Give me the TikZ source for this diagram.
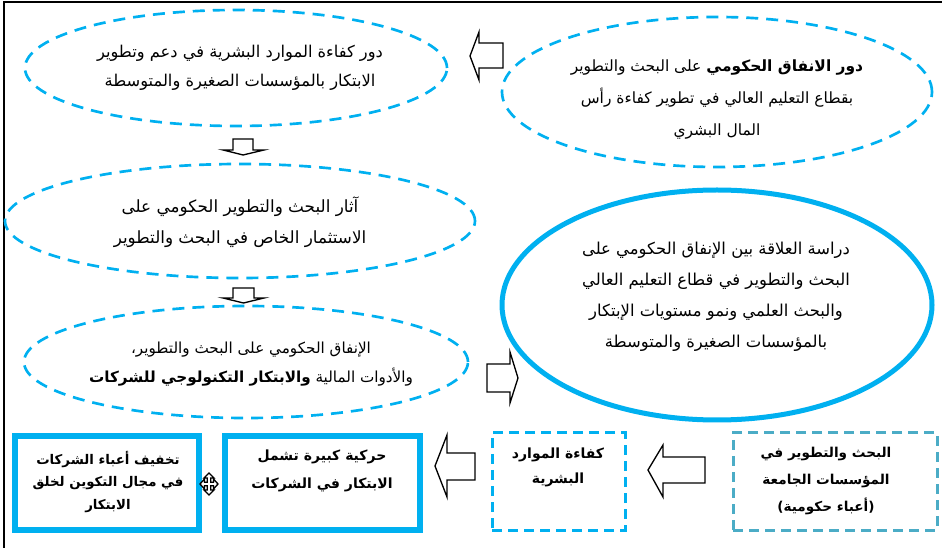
\documentclass[tikz,border=0pt]{standalone}
\usepackage{fontspec}
\setmainfont{DejaVu Sans}
\newfontfamily\arabicfont[Script=Arabic]{DejaVu Sans}
\TeXXeTstate=1
\usetikzlibrary{shapes.geometric}
\newcommand\AR[1]{\beginR#1\endR}
\definecolor{lblue}{HTML}{00B0F0}
\definecolor{tealb}{HTML}{4BACC6}
\tikzset{
  dellipse/.style={ellipse, draw=lblue, dash pattern=on 9pt off 6pt, line width=2pt, inner sep=0pt},
  bigellipse/.style={ellipse, draw=lblue, line width=3.75pt, inner sep=0pt},
  txt/.style 2 args={font=\arabicfont\fontsize{#1}{#2}\selectfont, align=center, inner sep=0pt, text=black},
  btxt/.style 2 args={font=\arabicfont\bfseries\fontsize{#1}{#2}\selectfont, align=center, inner sep=0pt, text=black},
  thickbox/.style={rectangle, draw=lblue, line width=4.5pt, inner sep=0pt},
  dbox/.style={rectangle, draw=#1, line width=2.25pt, dash pattern=on 7.5pt off 4.5pt, inner sep=0pt},
  hollow/.style={draw=black, line width=1pt, fill=white, line join=miter},
  frame/.style={draw=black, line width=1.6pt}
}
\begin{document}
\begin{tikzpicture}[x=0.75pt, y=-0.75pt]
\useasboundingbox (0,0) rectangle (942,548);
% frame
\coordinate (f1) at (942,2);
\coordinate (f2) at (4,2);
\coordinate (f3) at (4,548);
\draw[frame] (f1) -- (f2) -- (f3);

% ellipses
\node[dellipse, minimum width=316.5pt, minimum height=87pt] (e1) at (236,68) {};
\node[dellipse, minimum width=322.5pt, minimum height=112.5pt] (e2) at (717,92) {};
\node[dellipse, minimum width=352.5pt, minimum height=85.5pt] (e3) at (240,221) {};
\node[dellipse, minimum width=333pt, minimum height=84pt] (e4) at (246,362) {};
\node[bigellipse, minimum width=322.5pt, minimum height=172.5pt] (e5) at (717,305) {};

% ellipse texts
\node[txt={12.2}{21.75pt}] (t1) at (240,67.5) {\AR{دور كفاءة الموارد البشرية في دعم وتطوير}\\\AR{الابتكار بالمؤسسات الصغيرة والمتوسطة}};
\node[txt={11.6}{24pt}] (t2) at (717,100) {\AR{{\bfseries دور الانفاق الحكومي} على البحث والتطوير}\\\AR{بقطاع التعليم العالي في تطوير كفاءة رأس}\\\AR{المال البشري}};
\node[txt={12.6}{23.25pt}] (t3) at (240,222.5) {\AR{آثار البحث والتطوير الحكومي على}\\\AR{الاستثمار الخاص في البحث والتطوير}};
\node[txt={11.4}{21.75pt}] (t4) at (251,364.5) {\AR{الإنفاق الحكومي على البحث والتطوير،}\\\AR{والأدوات المالية {\bfseries والابتكار التكنولوجي للشركات}}};
\node[txt={12.3}{23.25pt}] (t5) at (716,297) {\AR{دراسة العلاقة بين الإنفاق الحكومي على}\\\AR{البحث والتطوير في قطاع التعليم العالي}\\\AR{والبحث العلمي  ونمو مستويات الإبتكار}\\\AR{بالمؤسسات الصغيرة والمتوسطة}};

% boxes
\node[thickbox, minimum width=138pt, minimum height=70.5pt] (ba) at (107,483) {};
\node[thickbox, minimum width=146.25pt, minimum height=70.5pt] (bb) at (322.5,483) {};
\node[dbox=lblue, minimum width=99.75pt, minimum height=72.75pt] (bc) at (558.5,481.5) {};
\node[dbox=tealb, minimum width=153pt, minimum height=72.75pt] (bd) at (835,481.5) {};

\node[btxt={10}{17pt}] (ta) at (108,482) {\AR{تخفيف أعباء الشركات}\\\AR{في مجال التكوين لخلق}\\\AR{الابتكار}};
\node[btxt={10.5}{21pt}] (tb) at (322,471) {\AR{حركية كبيرة تشمل}\\\AR{الابتكار في الشركات}};
\node[btxt={10.5}{18.75pt}] (tc) at (558,467.5) {\AR{كفاءة الموارد}\\\AR{البشرية}};
\node[btxt={10.2}{20pt}] (td) at (826,481) {\AR{البحث والتطوير في}\\\AR{المؤسسات الجامعة}\\\AR{(أعباء حكومية)}};

% block arrows
\draw[hollow] (470,56) -- (479,32) -- (479,43) -- (503,43) -- (503,68) -- (479,68) -- (479,80) -- cycle;
\draw[hollow] (233,139) -- (253,139) -- (253,150) -- (264,150) -- (243,155) -- (223,150) -- (233,150) -- cycle;
\draw[hollow] (233,288) -- (254,288) -- (254,298) -- (264,298) -- (243.5,303) -- (223,298) -- (233,298) -- cycle;
\draw[hollow] (487,364) -- (510,364) -- (510,352) -- (518,378) -- (510,403) -- (510,392) -- (487,392) -- cycle;
\draw[hollow] (435,466) -- (447,435) -- (447,453) -- (475,453) -- (475,480) -- (447,480) -- (447,497) -- cycle;
\draw[hollow] (648,470) -- (663,445) -- (663,457) -- (705,457) -- (705,483) -- (663,483) -- (663,497) -- cycle;

% four-way arrow icon
\draw[hollow, shift={(209,484)}] (0,-11) -- (5,-6) -- (1.8,-6) -- (1.8,-1.8) -- (4.5,-1.8) -- (4.5,-5) -- (9,0) -- (4.5,5) -- (4.5,1.8) -- (1.8,1.8) -- (1.8,6) -- (5,6) -- (0,11) -- (-5,6) -- (-1.8,6) -- (-1.8,1.8) -- (-4.5,1.8) -- (-4.5,5) -- (-9,0) -- (-4.5,-5) -- (-4.5,-1.8) -- (-1.8,-1.8) -- (-1.8,-6) -- (-5,-6) -- cycle;
\end{tikzpicture}
\end{document}
